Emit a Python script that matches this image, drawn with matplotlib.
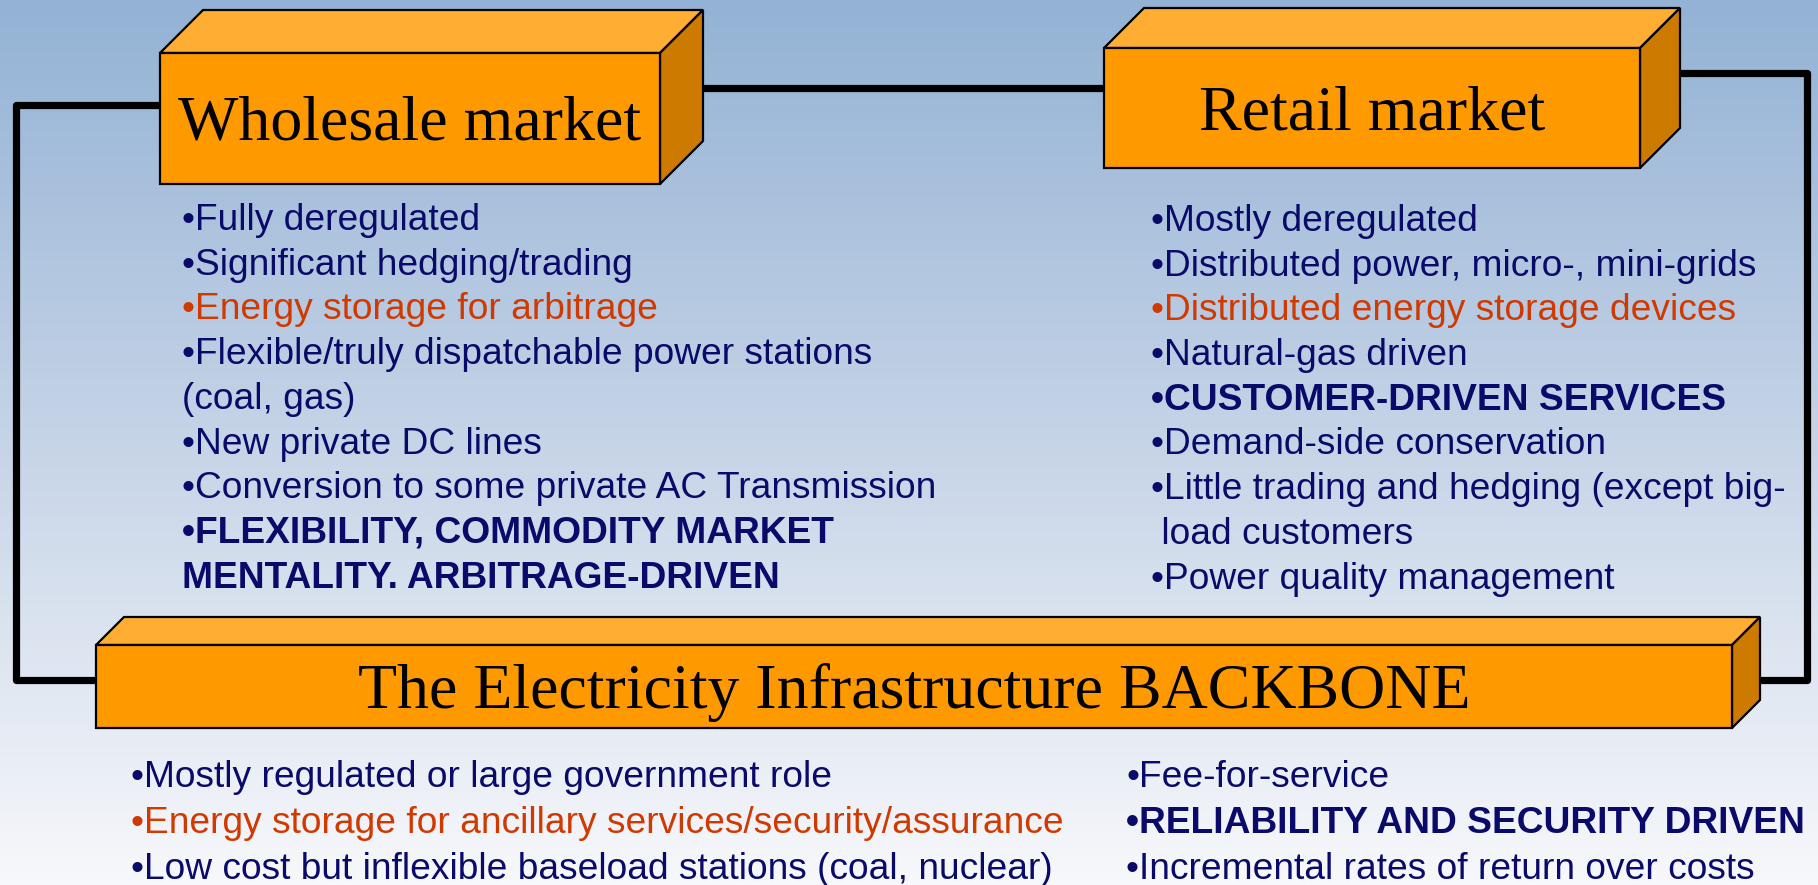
import numpy as np
import matplotlib
matplotlib.use("Agg")
import matplotlib.pyplot as plt
from matplotlib.patches import Polygon
from matplotlib.colors import LinearSegmentedColormap

# ---------------- data ----------------
box_titles = ["Wholesale market", "Retail market", "The Electricity Infrastructure BACKBONE"]

wholesale_lines = [
    "•Fully deregulated",
    "•Significant hedging/trading",
    "•Energy storage for arbitrage",
    "•Flexible/truly dispatchable power stations",
    "(coal, gas)",
    "•New private DC lines",
    "•Conversion to some private AC Transmission",
    "•FLEXIBILITY, COMMODITY MARKET",
    "MENTALITY. ARBITRAGE-DRIVEN",
]
wholesale_kinds = ["n", "n", "r", "n", "n", "n", "n", "b", "b"]

retail_lines = [
    "•Mostly deregulated",
    "•Distributed power, micro-, mini-grids",
    "•Distributed energy storage devices",
    "•Natural-gas driven",
    "•CUSTOMER-DRIVEN SERVICES",
    "•Demand-side conservation",
    "•Little trading and hedging (except big-",
    " load customers",
    "•Power quality management",
]
retail_kinds = ["n", "n", "r", "n", "b", "n", "n", "n", "n"]

backbone_left_lines = [
    "•Mostly regulated or large government role",
    "•Energy storage for ancillary services/security/assurance",
    "•Low cost but inflexible baseload stations (coal, nuclear)",
]
backbone_left_kinds = ["n", "r", "n"]

backbone_right_lines = [
    "•Fee-for-service",
    "•RELIABILITY AND SECURITY DRIVEN",
    "•Incremental rates of return over costs",
]
backbone_right_kinds = ["n", "b", "n"]

# ---------------- style ----------------
W, H = 1818, 885
NAVY = "#0A0A6B"
RED = "#D03A00"
FRONT = "#FF9900"
TOP = "#FFAD33"
SIDE = "#CC7A00"
BODY_FS = 26.7
TITLE_FS = 46

fig = plt.figure(figsize=(W / 100, H / 100), dpi=100)
ax = fig.add_axes([0, 0, 1, 1])
ax.set_xlim(0, W)
ax.set_ylim(H, 0)
ax.axis("off")

# background gradient
cmap = LinearSegmentedColormap.from_list("bg", [(0.0, "#93B2D5"), (0.5, "#C6D4E7"), (1.0, "#F7F8FB")])
grad = np.linspace(0, 1, 256).reshape(-1, 1)
ax.imshow(grad, cmap=cmap, extent=[0, W, H, 0], aspect="auto", zorder=0)

# connector lines
lw = 5.2
ax.plot([165, 16, 16, 100], [105, 105, 680, 680], color="black", lw=lw,
        solid_joinstyle="round", solid_capstyle="butt", zorder=1)
ax.plot([690, 1110], [88, 88], color="black", lw=lw, solid_capstyle="butt", zorder=1)
ax.plot([1660, 1807, 1807, 1745], [73, 73, 680, 680], color="black", lw=lw,
        solid_joinstyle="round", solid_capstyle="butt", zorder=1)


def draw_box(x0, y0, x1, y1, d, title, ty, fs):
    kw = dict(edgecolor="black", linewidth=1.6, joinstyle="miter", zorder=2)
    ax.add_patch(Polygon([(x0, y0), (x0 + d, y0 - d), (x1 + d, y0 - d), (x1, y0)], closed=True, facecolor=TOP, **kw))
    ax.add_patch(Polygon([(x1, y0), (x1 + d, y0 - d), (x1 + d, y1 - d), (x1, y1)], closed=True, facecolor=SIDE, **kw))
    ax.add_patch(Polygon([(x0, y0), (x1, y0), (x1, y1), (x0, y1)], closed=True, facecolor=FRONT, **kw))
    ax.text((x0 + x1) / 2, ty, title, ha="center", va="baseline", fontsize=fs,
            family="Liberation Serif", color="black", zorder=3)


draw_box(160, 53, 660, 184, 43, box_titles[0], 140, TITLE_FS)
draw_box(1104, 48, 1640, 168, 40, box_titles[1], 129, TITLE_FS)
draw_box(96, 645, 1732, 728, 28, box_titles[2], 708, TITLE_FS)


def draw_list(x, y0, dy, lines, kinds):
    for i, (s, k) in enumerate(zip(lines, kinds)):
        ax.text(x, y0 + i * dy, s, ha="left", va="baseline", fontsize=BODY_FS,
                family="Liberation Sans", color=RED if k == "r" else NAVY,
                fontweight="bold" if k == "b" else "normal", zorder=3)


draw_list(182, 230, 44.7, wholesale_lines, wholesale_kinds)
draw_list(1151, 231, 44.7, retail_lines, retail_kinds)
draw_list(131, 787, 46, backbone_left_lines, backbone_left_kinds)
draw_list(1126, 787, 46, backbone_right_lines, backbone_right_kinds)

fig.savefig("out.png", dpi=100)
